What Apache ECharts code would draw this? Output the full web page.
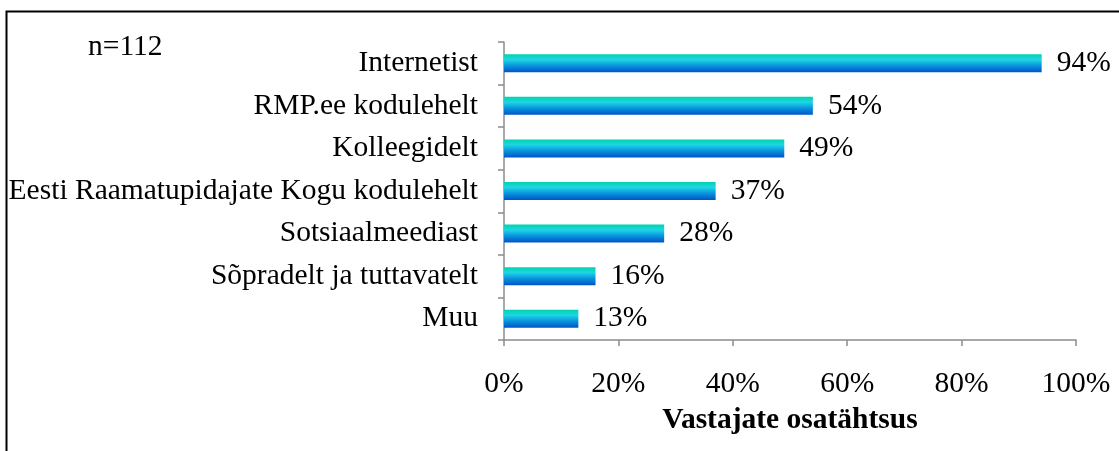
<!DOCTYPE html>
<html>
<head>
<meta charset="utf-8">
<script src="https://cdn.jsdelivr.net/npm/echarts@6/dist/echarts.min.js"></script>
<style>
  html, body { margin: 0; padding: 0; background: #fff; }
  #chart { width: 1119px; height: 451px; }
</style>
</head>
<body>
<div id="chart"></div>
<script>
const categories = [
  'Internetist',
  'RMP.ee kodulehelt',
  'Kolleegidelt',
  'Eesti Raamatupidajate Kogu kodulehelt',
  'Sotsiaalmeediast',
  'Sõpradelt ja tuttavatelt',
  'Muu'
]
const shares = [94, 54, 49, 37, 28, 16, 13]
const axisTitle = 'Vastajate osatähtsus'
const sampleNote = 'n=112'

const font = 'Liberation Serif, Times New Roman, serif'
const axisGray = '#8c8c8c'
const fs = 29.5

const chart = echarts.init(document.getElementById('chart'))

chart.setOption({
  backgroundColor: '#fff',
  animation: false,
  textStyle: { fontFamily: font },
  grid: { left: 504, right: 43, top: 42, bottom: 111, outerBoundsMode: 'none' },
  graphic: [
    {
      type: 'rect',
      shape: { x: 6.5, y: 11.5, width: 1200, height: 500 },
      style: { fill: 'none', stroke: '#000', lineWidth: 2 },
      silent: true
    },
    {
      type: 'text',
      left: 88,
      top: 32,
      style: { text: sampleNote, font: fs + 'px ' + font, fill: '#000' }
    }
  ],
  xAxis: {
    type: 'value',
    min: 0,
    max: 100,
    interval: 20,
    name: axisTitle,
    nameLocation: 'middle',
    nameGap: 65,
    nameTextStyle: { color: '#000', fontSize: fs, fontWeight: 'bold', fontFamily: font },
    axisLine: { show: true, lineStyle: { color: axisGray, width: 1.5 } },
    axisTick: { show: true, length: 6, lineStyle: { color: axisGray, width: 1.5 } },
    axisLabel: { color: '#000', fontSize: fs, margin: 29, formatter: '{value}%', fontFamily: font },
    splitLine: { show: false }
  },
  yAxis: {
    type: 'category',
    data: categories,
    inverse: true,
    axisLine: { show: true, lineStyle: { color: axisGray, width: 1.5 } },
    axisTick: { show: true, length: 6, lineStyle: { color: axisGray, width: 1.5 } },
    axisLabel: { color: '#000', fontSize: fs, margin: 26, fontFamily: font }
  },
  series: [{
    type: 'bar',
    data: shares,
    barWidth: 18,
    itemStyle: {
      color: new echarts.graphic.LinearGradient(0, 0, 0, 1, [
        { offset: 0, color: '#00d2ae' },
        { offset: 0.3, color: '#1ed6e4' },
        { offset: 0.65, color: '#0890dc' },
        { offset: 1, color: '#0054c8' }
      ])
    },
    label: {
      show: true,
      position: 'right',
      distance: 15,
      formatter: '{c}%',
      color: '#000',
      fontSize: fs,
      fontFamily: font
    }
  }]
})
</script>
</body>
</html>
